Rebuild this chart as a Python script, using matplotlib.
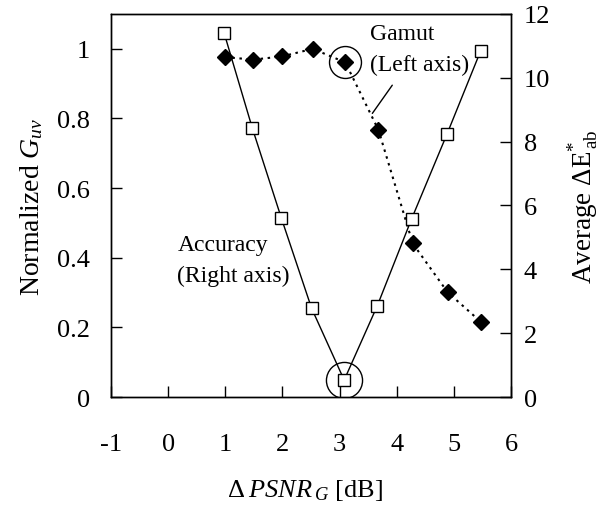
import matplotlib
matplotlib.use('Agg')
import matplotlib.pyplot as plt

plt.rcParams['font.family'] = ['Liberation Serif', 'DejaVu Serif']
plt.rcParams['mathtext.fontset'] = 'custom'
plt.rcParams['mathtext.rm'] = 'Liberation Serif'
plt.rcParams['mathtext.it'] = 'Liberation Serif:italic'
plt.rcParams['axes.unicode_minus'] = False

# Gamut (left axis, normalized G_uv)
gamut_x = [1.0, 1.49, 1.99, 2.53, 3.10, 3.68, 4.28, 4.89, 5.47]
gamut_y = [0.976, 0.969, 0.978, 1.0, 0.961, 0.767, 0.441, 0.301, 0.216]

# Accuracy (right axis, average dE*ab)
acc_x = [0.98, 1.47, 1.98, 2.51, 3.08, 3.66, 4.26, 4.88, 5.47]
acc_y = [11.40, 8.44, 5.61, 2.78, 0.53, 2.86, 5.58, 8.24, 10.85]

x_ticks = [-1, 0, 1, 2, 3, 4, 5, 6]
left_ticks = [0, 0.2, 0.4, 0.6, 0.8, 1]
left_labels = ['0', '0.2', '0.4', '0.6', '0.8', '1']
right_ticks = [0, 2, 4, 6, 8, 10, 12]

fig = plt.figure(figsize=(6.08, 5.10), dpi=100)
ax = fig.add_axes([0.1826, 0.2196, 0.6579, 0.751])
ax2 = ax.twinx()

# gamut curve
ax.plot(gamut_x, gamut_y, color='black', linestyle=(0, (1.2, 2.2)), linewidth=1.5,
        marker='D', markersize=8.5, markerfacecolor='black', markeredgecolor='black')
ax.plot(gamut_x[4], gamut_y[4], marker='o', markersize=23, markerfacecolor='none',
        markeredgecolor='black', markeredgewidth=1.0)

# accuracy curve
ax2.plot(acc_x, acc_y, color='black', linewidth=1.0, marker='s', markersize=9,
         markerfacecolor='white', markeredgecolor='black', markeredgewidth=1.0)
ax2.plot(acc_x[4], acc_y[4], marker='o', markersize=26, markerfacecolor='none',
         markeredgecolor='black', markeredgewidth=1.0)

ax.set_xlim(-1, 6)
ax.set_ylim(0, 1.1)
ax2.set_ylim(0, 12)

ax.set_xticks(x_ticks)
ax.set_xticklabels([str(t) for t in x_ticks])
ax.set_yticks(left_ticks)
ax.set_yticklabels(left_labels)
ax2.set_yticks(right_ticks)
ax2.set_yticklabels([str(t) for t in right_ticks])

ax.tick_params(axis='x', direction='in', length=8, width=1, labelsize=19, pad=26, top=False)
ax.tick_params(axis='y', direction='in', length=8, width=1, labelsize=19, pad=15, right=False)
ax2.tick_params(axis='y', direction='in', length=8, width=1, labelsize=19, pad=9)

for a in (ax, ax2):
    for s in a.spines.values():
        s.set_linewidth(1.0)

ax.set_xlabel(r'$\mathit{Δ}\:PSNR_{\:G}$ [dB]', fontsize=19, labelpad=16)
ax.xaxis.label.set_x(0.485)
ax.set_ylabel(r'Normalized $G_{uv}$', fontsize=20, labelpad=9)
ax2.set_ylabel(r'Average ΔE$^{*}_{\,\mathrm{ab}}$', fontsize=19.5, labelpad=12)

# annotations
ax.text(3.535, 1.028, 'Gamut', fontsize=17, ha='left', va='baseline')
ax.text(3.535, 0.940, '(Left axis)', fontsize=17, ha='left', va='baseline')
ax.annotate('', xy=(3.545, 0.808), xytext=(3.95, 0.902),
            arrowprops=dict(arrowstyle='-', color='black', linewidth=1.0))
ax.text(0.17, 0.423, 'Accuracy', fontsize=17, ha='left', va='baseline')
ax.text(0.155, 0.334, '(Right axis)', fontsize=17, ha='left', va='baseline')

plt.savefig('out.png', dpi=100)
